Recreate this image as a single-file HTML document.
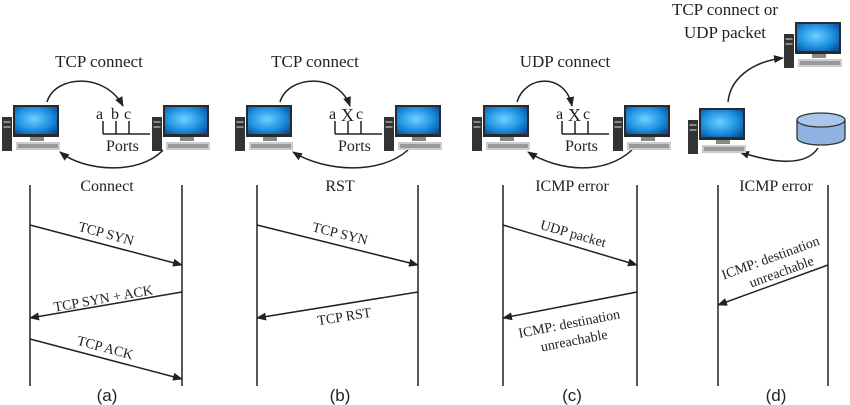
<!DOCTYPE html>
<html><head><meta charset="utf-8"><style>
html,body{margin:0;padding:0;background:#fff}
svg{display:block}
.s{font-family:"Liberation Serif",serif;fill:#222}
.p{font-family:"Liberation Sans",sans-serif;fill:#222}
</style></head><body>
<svg width="850" height="405" viewBox="0 0 850 405" xmlns="http://www.w3.org/2000/svg">
<defs>
<marker id="ah" markerWidth="10" markerHeight="8" refX="9" refY="4" orient="auto" markerUnits="userSpaceOnUse">
<path d="M0,0 L10,4 L0,8 Z" fill="#222"/></marker>
<radialGradient id="scr" cx="0.45" cy="0.45" r="0.7">
<stop offset="0" stop-color="#6fd0ff"/><stop offset="0.6" stop-color="#1d8fe0"/><stop offset="1" stop-color="#0a4f9a"/></radialGradient>
<g id="pc">
<rect x="0" y="12" width="10" height="34" fill="#333"/>
<rect x="1.5" y="16" width="7" height="2" fill="#888"/>
<rect x="1.5" y="21" width="7" height="2" fill="#888"/>
<rect x="11" y="0" width="46" height="32" fill="#2a2a2a"/>
<rect x="13" y="2" width="42" height="27" fill="url(#scr)"/>
<rect x="28" y="32" width="14" height="4" fill="#888"/>
<rect x="14" y="37" width="44" height="8" fill="#ccc"/>
<rect x="16" y="39" width="40" height="4" fill="#999"/>
</g>
</defs>
<g stroke="#222" stroke-width="1.5" fill="none">
<line x1="30" y1="185" x2="30" y2="386"/><line x1="182" y1="185" x2="182" y2="386"/>
<line x1="257" y1="185" x2="257" y2="386"/><line x1="418" y1="185" x2="418" y2="386"/>
<line x1="503" y1="185" x2="503" y2="386"/><line x1="637" y1="185" x2="637" y2="386"/>
<line x1="718" y1="185" x2="718" y2="386"/><line x1="828" y1="185" x2="828" y2="386"/>
<line x1="30" y1="225" x2="182" y2="265" marker-end="url(#ah)"/>
<line x1="182" y1="292" x2="30" y2="318" marker-end="url(#ah)"/>
<line x1="30" y1="339" x2="182" y2="379" marker-end="url(#ah)"/>
<line x1="257" y1="225" x2="418" y2="265" marker-end="url(#ah)"/>
<line x1="418" y1="292" x2="257" y2="318" marker-end="url(#ah)"/>
<line x1="503" y1="225" x2="637" y2="265" marker-end="url(#ah)"/>
<line x1="637" y1="292" x2="503" y2="318" marker-end="url(#ah)"/>
<line x1="828" y1="265" x2="718" y2="305" marker-end="url(#ah)"/>
<path d="M47,102 C55,75 105,72 123,106" marker-end="url(#ah)"/>
<path d="M163,150 C140,175 85,172 60,152" marker-end="url(#ah)"/>
<path d="M280,102 C288,75 338,72 350,106" marker-end="url(#ah)"/>
<path d="M408,150 C380,175 325,172 293,152" marker-end="url(#ah)"/>
<path d="M517,102 C525,75 565,72 572,106" marker-end="url(#ah)"/>
<path d="M632,150 C605,175 560,172 528,152" marker-end="url(#ah)"/>
<path d="M728,102 C730,80 750,62 783,58" marker-end="url(#ah)"/>
<path d="M818,148 C805,168 770,162 740,152" marker-end="url(#ah)"/>
<path d="M103,121 V134 M116,121 V134 M129,121 V134 M103,134 H150"/>
<path d="M335,121 V134 M348,121 V134 M361,121 V134 M335,134 H382"/>
<path d="M562,121 V134 M575,121 V134 M588,121 V134 M562,134 H609"/>
</g>
<use href="#pc" x="2" y="105"/><use href="#pc" x="152" y="105"/>
<use href="#pc" x="235" y="105"/><use href="#pc" x="384" y="105"/>
<use href="#pc" x="472" y="105"/><use href="#pc" x="613" y="105"/>
<use href="#pc" x="688" y="108"/><use href="#pc" x="784" y="22"/>
<path d="M797,120 V138 A24,7 0 0 0 845,138 V120" fill="#8fb3e0" stroke="#333" stroke-width="1.3"/>
<ellipse cx="821" cy="120" rx="24" ry="7" fill="#a9c6ec" stroke="#333" stroke-width="1.3"/>
<g class="s" font-size="17">
<text x="99" y="67" text-anchor="middle">TCP connect</text>
<text x="315" y="67" text-anchor="middle">TCP connect</text>
<text x="565" y="67" text-anchor="middle">UDP connect</text>
<text x="725" y="15" text-anchor="middle">TCP connect or</text>
<text x="725" y="38" text-anchor="middle">UDP packet</text>
</g>
<g class="s" font-size="16">
<text x="107" y="191" text-anchor="middle">Connect</text>
<text x="340" y="191" text-anchor="middle">RST</text>
<text x="572" y="191" text-anchor="middle">ICMP error</text>
<text x="776" y="191" text-anchor="middle">ICMP error</text>
<text x="96" y="119">a</text><text x="111" y="119">b</text><text x="124" y="119">c</text>
<text x="329" y="119">a</text><text x="341" y="121" font-size="18">X</text><text x="356" y="119">c</text>
<text x="556" y="119">a</text><text x="568" y="121" font-size="18">X</text><text x="583" y="119">c</text>
<text x="106" y="151">Ports</text><text x="338" y="151">Ports</text><text x="565" y="151">Ports</text>
</g>
<g class="s" font-size="14">
<text transform="translate(105,238) rotate(15)" text-anchor="middle">TCP SYN</text>
<text transform="translate(104,303) rotate(-10)" text-anchor="middle">TCP SYN + ACK</text>
<text transform="translate(104,352) rotate(15)" text-anchor="middle">TCP ACK</text>
<text transform="translate(339,238) rotate(14)" text-anchor="middle">TCP SYN</text>
<text transform="translate(345,321) rotate(-9)" text-anchor="middle">TCP RST</text>
<text transform="translate(572,238) rotate(16)" text-anchor="middle">UDP packet</text>
<text transform="translate(570,328) rotate(-11)" text-anchor="middle">ICMP: destination</text>
<text transform="translate(575,345) rotate(-11)" text-anchor="middle">unreachable</text>
<text transform="translate(772,262) rotate(-20)" text-anchor="middle">ICMP: destination</text>
<text transform="translate(783,276) rotate(-20)" text-anchor="middle">unreachable</text>
</g>
<g class="p" font-size="17">
<text x="107" y="401" text-anchor="middle">(a)</text>
<text x="340" y="401" text-anchor="middle">(b)</text>
<text x="572" y="401" text-anchor="middle">(c)</text>
<text x="776" y="401" text-anchor="middle">(d)</text>
</g>
</svg>
</body></html>
